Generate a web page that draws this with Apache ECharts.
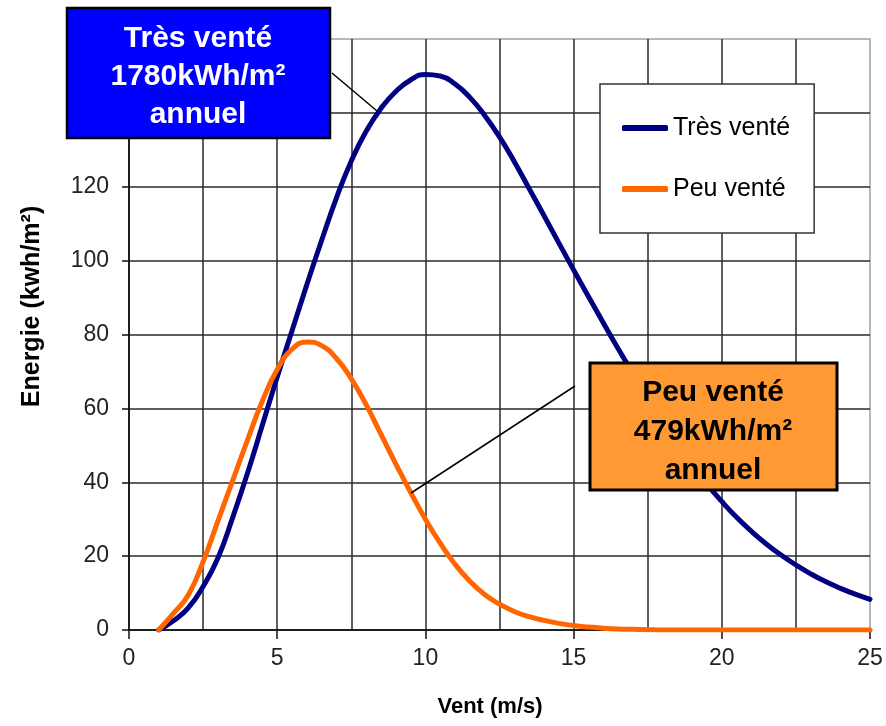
<!DOCTYPE html>
<html>
<head>
<meta charset="utf-8">
<script src="https://cdn.jsdelivr.net/npm/echarts@6/dist/echarts.min.js"></script>
<style>
html,body{margin:0;padding:0;background:#fff;}
#chart{width:886px;height:726px;}
</style>
</head>
<body>
<div id="chart"></div>
<script>
// Wind speed (m/s)
var windSpeed = [1,1.5,2,2.5,3,3.5,4,4.5,5,5.5,6,6.5,7,7.5,8,8.5,9,9.5,10,10.5,11,11.5,12,12.5,13,13.5,14,14.5,15,15.5,16,16.5,17,17.5,18,18.5,19,19.5,20,20.5,21,21.5,22,22.5,23,23.5,24,24.5,25];
// Energy (kWh/m²) – "Très venté"
var tresVente = [0,2.5,6,11.8,19.5,30.5,42.5,55.5,68.5,81,93.5,105.5,117,127,135,141.2,145.8,148.9,150.4,150,147.8,144.2,139.3,133.5,126.8,119.5,112.2,104.8,97.5,90.3,83.2,76.2,69.5,63,56.8,50.8,44.8,39.5,34.8,30.5,26.7,23.3,20.3,17.6,15.2,13.1,11.3,9.7,8.3];
// Energy (kWh/m²) – "Peu venté"
var peuVente = [0,4.5,9.5,18.5,29.5,40.5,51.5,62,70.5,76,78,77,73.5,68,61,53,45,37.3,30,23.5,17.8,13.2,9.6,7,5,3.6,2.6,1.8,1.2,0.8,0.5,0.3,0.2,0.1,0,0,0,0,0,0,0,0,0,0,0,0,0,0,0];
var seriesNames = ['Très venté', 'Peu venté'];
var xTicks = [0,5,10,15,20,25];
var yTicks = [0,20,40,60,80,100,120,140,160];
var boxTres = ['Très venté', '1780kWh/m²', 'annuel'];
var boxPeu = ['Peu venté', '479kWh/m²', 'annuel'];

function pairs(xs, ys){ return xs.map(function(x,i){ return [x, ys[i]]; }); }

var chart = echarts.init(document.getElementById('chart'), null, {renderer:'canvas'});
var fontTick = "'Liberation Sans', Arial, sans-serif";
var gridColor = '#2a2a2a';

var option = {
  backgroundColor: '#ffffff',
  animation: false,
  grid: { left: 129, right: 16, top: 39, bottom: 96, show: true, borderColor: '#a0a0a0', borderWidth: 1.5, backgroundColor: 'transparent' },
  legend: {
    data: seriesNames,
    orient: 'vertical',
    left: 600, top: 84,
    padding: [31, 24, 31, 22],
    itemGap: 35,
    itemWidth: 46, itemHeight: 6,
    icon: 'roundRect',
    backgroundColor: '#ffffff',
    borderColor: '#333333', borderWidth: 1.5,
    textStyle: { fontFamily: fontTick, fontSize: 25, color: '#000', lineHeight: 26 },
    z: 20
  },
  xAxis: {
    type: 'value', min: xTicks[0], max: xTicks[xTicks.length-1], interval: 5,
    name: 'Vent (m/s)', nameLocation: 'middle', nameGap: 66,
    nameTextStyle: { fontFamily: fontTick, fontWeight: 'bold', fontSize: 22, color: '#000', padding: [0, 19, 0, 0] },
    axisLine: { show: true, onZero: false, lineStyle: { color: '#111', width: 1.5 } },
    axisTick: { show: true, length: 9, lineStyle: { color: '#111', width: 1.5 } },
    axisLabel: { fontFamily: fontTick, fontSize: 23, color: '#222', margin: 17 },
    splitLine: { show: true, showMaxLine: false, lineStyle: { color: gridColor, width: 1.5 } },
    minorTick: { show: false, splitNumber: 2 },
    minorSplitLine: { show: true, lineStyle: { color: gridColor, width: 1.5 } }
  },
  yAxis: {
    type: 'value', min: yTicks[0], max: yTicks[yTicks.length-1], interval: 20,
    name: 'Energie (kwh/m²)', nameLocation: 'middle', nameGap: 84,
    nameTextStyle: { fontFamily: fontTick, fontWeight: 'bold', fontSize: 25, color: '#000', padding: [0, 0, 0, 56] },
    axisLine: { show: true, lineStyle: { color: '#111', width: 1.5 } },
    axisTick: { show: true, length: 7, lineStyle: { color: '#111', width: 1.5 } },
    axisLabel: { fontFamily: fontTick, fontSize: 23, color: '#222', margin: 20 },
    splitLine: { show: true, showMaxLine: false, lineStyle: { color: gridColor, width: 1.5 } }
  },
  series: [
    { name: seriesNames[0], type: 'line', smooth: true, showSymbol: false, symbol: 'none',
      data: pairs(windSpeed, tresVente), lineStyle: { color: '#000080', width: 5, cap: 'round' }, itemStyle: { color: '#000080' }, z: 3 },
    { name: seriesNames[1], type: 'line', smooth: true, showSymbol: false, symbol: 'none',
      data: pairs(windSpeed, peuVente), lineStyle: { color: '#ff6600', width: 5, cap: 'round' }, itemStyle: { color: '#ff6600' }, z: 4 }
  ],
  graphic: [
    { type: 'line', z: 50, shape: { x1: 332, y1: 73, x2: 377, y2: 111 }, style: { stroke: '#000', lineWidth: 1.5 } },
    { type: 'line', z: 50, shape: { x1: 575, y1: 386, x2: 411, y2: 493 }, style: { stroke: '#000', lineWidth: 1.5 } },
    { type: 'rect', z: 60, shape: { x: 67, y: 8, width: 263, height: 130 }, style: { fill: '#0000ff', stroke: '#000', lineWidth: 2.5 } },
    { type: 'text', z: 61, x: 198, y: 77, style: { text: boxTres.join('\n'), fill: '#fff', font: "bold 30px 'Liberation Sans', Arial, sans-serif", textAlign: 'center', textVerticalAlign: 'middle', lineHeight: 38 } },
    { type: 'rect', z: 60, shape: { x: 590, y: 363, width: 247, height: 127 }, style: { fill: '#ff9933', stroke: '#000', lineWidth: 3 } },
    { type: 'text', z: 61, x: 713, y: 432, style: { text: boxPeu.join('\n'), fill: '#000', font: "bold 30px 'Liberation Sans', Arial, sans-serif", textAlign: 'center', textVerticalAlign: 'middle', lineHeight: 39 } }
  ]
};
chart.setOption(option);
</script>
</body>
</html>
